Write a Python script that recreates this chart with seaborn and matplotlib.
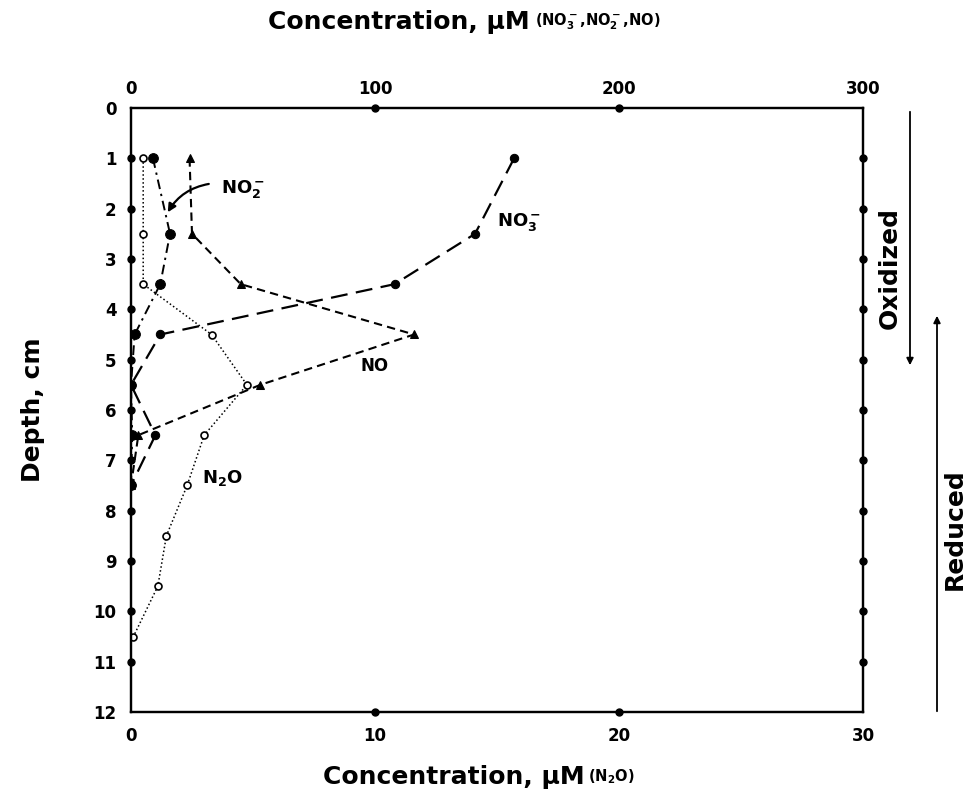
import matplotlib
matplotlib.use("Agg")
import matplotlib.pyplot as plt
import seaborn as sns

# depth profile (cm) for the NO3-, NO2-, NO series (top axis, uM)
depth_n = [1, 2.5, 3.5, 4.5, 5.5, 6.5, 7.5]
no3 = [157, 141, 108, 12, 0, 10, 0]
no2 = [9, 16, 12, 1.5, 0, 0.5, 0]
no = [24, 25, 45, 116, 53, 3, 0]

# N2O profile (bottom axis, uM)
depth_n2o = [1, 2.5, 3.5, 4.5, 5.5, 6.5, 7.5, 8.5, 9.5, 10.5]
n2o = [0.5, 0.5, 0.5, 3.3, 4.75, 3.0, 2.3, 1.45, 1.1, 0.1]

depth_ticks = list(range(0, 13))
top_ticks = [0, 100, 200, 300]
bottom_ticks = [0, 10, 20, 30]

sns.set_style("white")
plt.rcParams["font.family"] = ["DejaVu Sans"]
plt.rcParams["mathtext.fontset"] = "dejavusans"
plt.rcParams["mathtext.default"] = "bf"
for k in ("text.color", "axes.labelcolor", "xtick.color", "ytick.color"):
    plt.rcParams[k] = "black"

W, H = 971, 796
fig = plt.figure(figsize=(W / 100, H / 100), dpi=100)
ax = fig.add_axes([131 / W, 1 - 712 / H, (863 - 131) / W, (712 - 108) / H])
ax2 = ax.twiny()

# N2O on the bottom axis
sns.lineplot(x=n2o, y=depth_n2o, sort=False, estimator=None, ax=ax,
             color="black", lw=1.1, linestyle=(0, (1, 1.6)),
             marker="o", markersize=5, markerfacecolor="white",
             markeredgecolor="black", markeredgewidth=1.2)

# NO3-, NO2-, NO on the top axis
sns.lineplot(x=no3, y=depth_n, sort=False, estimator=None, ax=ax2,
             color="black", lw=1.6, linestyle=(0, (7.6, 3.8)),
             marker="o", markersize=6, markeredgecolor="black")
sns.lineplot(x=no2, y=depth_n, sort=False, estimator=None, ax=ax2,
             color="black", lw=1.4, linestyle=(0, (5, 2.5, 1.2, 2.5)),
             marker="o", markersize=7, markeredgecolor="black")
sns.lineplot(x=no, y=depth_n, sort=False, estimator=None, ax=ax2,
             color="black", lw=1.5, linestyle=(0, (4, 2.5)),
             marker="^", markersize=6, markeredgecolor="black")

ax.set_ylim(12, 0)
ax2.set_ylim(12, 0)
ax.set_xlim(0, 30)
ax2.set_xlim(0, 300)

ax.set_yticks(depth_ticks)
ax.set_yticklabels([str(t) for t in depth_ticks])
ax.set_xticks(bottom_ticks)
ax.set_xticklabels([str(t) for t in bottom_ticks])
ax2.set_xticks(top_ticks)
ax2.set_xticklabels([str(t) for t in top_ticks])

ax.tick_params(axis="y", left=True, right=True, direction="inout", length=5,
               width=1, pad=8, labelsize=12)
ax.tick_params(axis="x", bottom=True, direction="inout", length=5, width=1,
               pad=8, labelsize=12)
ax2.tick_params(axis="x", top=True, direction="inout", length=5, width=1,
                pad=5, labelsize=12)
for a in (ax, ax2):
    for lab in a.get_xticklabels() + a.get_yticklabels():
        lab.set_fontweight("bold")
    for sp in a.spines.values():
        sp.set_linewidth(1.6)
        sp.set_color("black")
ax2.yaxis.set_visible(False)

# ticks drawn as small dots sitting on the frame, none at the corners
for axis in (ax.yaxis, ax.xaxis, ax2.xaxis):
    ticks = axis.get_major_ticks()
    for i, t in enumerate(ticks):
        for tl in (t.tick1line, t.tick2line):
            tl.set_marker("o")
            tl.set_markersize(5)
            tl.set_markerfacecolor("black")
            tl.set_markeredgecolor("black")
            if i in (0, len(ticks) - 1):
                tl.set_visible(False)

ax.set_xlabel("")
ax.set_ylabel("")
ax2.set_xlabel("")

# inline series labels
ax2.text(37, 1.6, r"NO$_2^-$", fontsize=13, fontweight="bold", va="center")
ax2.annotate("", xy=(14.5, 2.12), xytext=(33, 1.5),
             arrowprops=dict(arrowstyle="-|>", color="black", lw=1.6,
                             connectionstyle="arc3,rad=0.25",
                             mutation_scale=12))
ax2.text(150, 2.27, r"NO$_3^-$", fontsize=13, fontweight="bold", va="center")
ax2.text(94, 5.13, "NO", fontsize=12, fontweight="bold", va="center")
ax2.text(29, 7.35, r"N$_2$O", fontsize=13, fontweight="bold", va="center")

# axis titles
fig.text(268 / W, 1 - 22 / H, "Concentration, μM", fontsize=18,
         fontweight="bold", va="center", ha="left")
fig.text(535 / W, 1 - 22 / H, r"(NO$_3^-$,NO$_2^-$,NO)", fontsize=10.5,
         fontweight="bold", va="center", ha="left")
fig.text(323 / W, 1 - 777 / H, "Concentration, μM", fontsize=18,
         fontweight="bold", va="center", ha="left")
fig.text(588 / W, 1 - 777 / H, r"(N$_2$O)", fontsize=10.5,
         fontweight="bold", va="center", ha="left")
fig.text(33 / W, 1 - 410 / H, "Depth, cm", fontsize=18, fontweight="bold",
         rotation=90, va="center", ha="center")

# oxidized / reduced zones
fig.text(890 / W, 1 - 268 / H, "Oxidized", fontsize=18, fontweight="bold",
         rotation=90, va="center", ha="center")
fig.text(955 / W, 1 - 529 / H, "Reduced", fontsize=18, fontweight="bold",
         rotation=90, va="center", ha="center")
ax.annotate("", xy=(910, H - 368), xytext=(910, H - 109),
            xycoords="figure pixels", textcoords="figure pixels",
            arrowprops=dict(arrowstyle="-|>", color="black", lw=1.3,
                            mutation_scale=10))
ax.annotate("", xy=(937, H - 313), xytext=(937, H - 714),
            xycoords="figure pixels", textcoords="figure pixels",
            arrowprops=dict(arrowstyle="-|>", color="black", lw=1.3,
                            mutation_scale=10))

fig.savefig("out.png", dpi=100, facecolor="white")
